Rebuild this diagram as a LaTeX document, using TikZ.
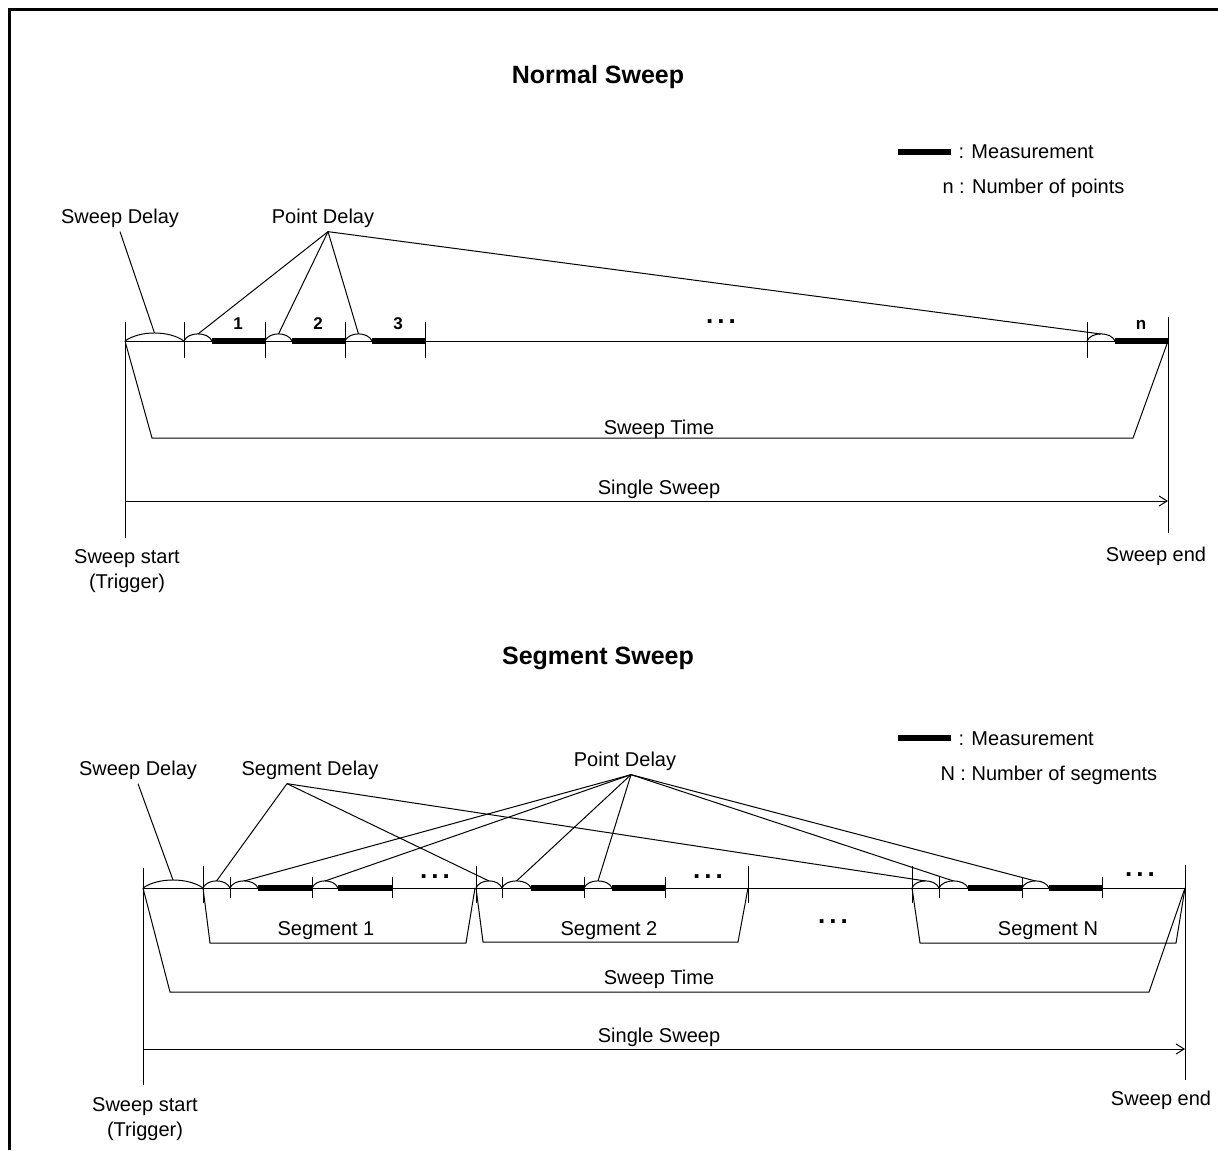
\documentclass[tikz,border=0pt]{standalone}
\usepackage{fontspec}
\setmainfont{Liberation Sans}
\usetikzlibrary{arrows.meta}
\tikzset{every picture/.style={line width=0.5pt}}
\tikzset{
  lbl/.style={anchor=base,inner sep=2pt,font=\fontsize{10}{12}\selectfont},
  ttl/.style={anchor=base,inner sep=2pt,font=\fontsize{12.5}{15}\selectfont\bfseries},
  num/.style={anchor=base,inner sep=1pt,font=\fontsize{8.5}{10}\selectfont\bfseries},
  ell/.style={anchor=base,inner sep=0pt,font=\fontsize{13}{15}\selectfont\bfseries},
  meas/.style={line width=2.8pt},
  sarr/.style={-{Straight Barb[length=4pt,width=5pt]}},
}
\newcommand{\tdots}{.\kern2pt.\kern2pt.}

\begin{document}
\begin{tikzpicture}[x=0.5pt,y=0.5pt,yscale=-1,xscale=1]
    \useasboundingbox (0,0) rectangle (1218,1150);
    \draw [line width=1.5pt] (9,1150) -- (9,10) -- (1218,10) ;
    % Normal Sweep
    \node (ttlA) [ttl] at (598,84) {Normal Sweep};
    \draw [meas] (898,152) -- (951,152) ;
    \node (msA) [lbl,anchor=base west,inner sep=0pt] at (958,159) {: Measurement};
    \node (npA) [lbl,anchor=base west,inner sep=0pt] at (942,193) {n : Number of points};
    \node (swdA) [lbl] at (120,223) {Sweep Delay};
    \node (ptdA) [lbl] at (323,223) {Point Delay};
    \draw    (125,341) -- (1168,341) ;
    \draw    (125,322) -- (125,538) ;
    \draw    (1168,317) -- (1168,533) ;
    \foreach \x in {184,265,345,425,1087}
      \draw    (\x,322) -- (\x,358) ;
    \foreach \a/\b in {212/265,292/345,372/425,1115/1168}
      \draw [meas] (\a,341) -- (\b,341) ;
    \draw    (125,341) .. controls +(15,-10.7) and +(-15,-10.7) .. (184,341) ;
    \coordinate (sdA) at (154.5,333) ;
    \foreach \a/\b [count=\i] in {184/212,265/292,345/372,1087/1115} {
      \draw    (\a,341) .. controls +(4,-9.5) and +(-4,-9.5) .. (\b,341) ;
      \coordinate (pA\i) at ({(\a+\b)/2},334) ;
    }
    \node (n1) [num] at (238,329) {1};
    \node (n2) [num] at (318,329) {2};
    \node (n3) [num] at (398,329) {3};
    \node (nn) [num] at (1141,329) {n};
    \node (elA) [ell] at (721,323) {\tdots};
    \draw    (swdA.south) -- (sdA) ;
    \foreach \i in {1,...,4}
      \draw    ([xshift=2.5pt]ptdA.south) -- (pA\i) ;
    \draw    (125,341) -- (152,438) -- (1133,438) -- (1168,341) ;
    \node (stA) [lbl] at (659,434) {Sweep Time};
    \draw [sarr] (125,501) -- (1168,501) ;
    \node (ssA) [lbl] at (659,494) {Single Sweep};
    \node (bgA) [lbl] at (127,563) {Sweep start};
    \node (trA) [lbl] at (127,588) {(Trigger)};
    \node (enA) [lbl] at (1156,561) {Sweep end};
    % Segment Sweep
    \node (ttlB) [ttl] at (598,664) {Segment Sweep};
    \draw [meas] (898,738) -- (951,738) ;
    \node (msB) [lbl,anchor=base west,inner sep=0pt] at (958,745) {: Measurement};
    \node (nsB) [lbl,anchor=base west,inner sep=0pt] at (940,780) {N : Number of segments};
    \node (swdB) [lbl] at (138,775) {Sweep Delay};
    \node (sgdB) [lbl] at (310,775) {Segment Delay};
    \node (ptdB) [lbl] at (625,766) {Point Delay};
    \draw    (143,888) -- (1185,888) ;
    \draw    (143,868) -- (143,1085) ;
    \draw    (1185,865) -- (1185,1080) ;
    \foreach \x in {203,476,748,912}
      \draw    (\x,866) -- (\x,903) ;
    \foreach \x in {230,312,392,502,584,665,939,1022,1102}
      \draw    (\x,877) -- (\x,898) ;
    \foreach \a/\b in {258/312,338/392,531/584,612/665,968/1022,1049/1102}
      \draw [meas] (\a,888) -- (\b,888) ;
    \draw    (143,888) .. controls +(15,-10.7) and +(-15,-10.7) .. (203,888) ;
    \coordinate (sdB) at (173,880) ;
    \foreach \a/\b [count=\i] in {203/230,476/502,912/939} {
      \draw    (\a,888) .. controls +(4,-9.5) and +(-4,-9.5) .. (\b,888) ;
      \coordinate (gB\i) at ({(\a+\b)/2},881) ;
    }
    \foreach \a/\b [count=\i] in {230/258,312/338,502/531,584/612,939/968,1022/1049} {
      \draw    (\a,888) .. controls +(4,-9.5) and +(-4,-9.5) .. (\b,888) ;
      \coordinate (pB\i) at ({(\a+\b)/2},881) ;
    }
    \node (elB1) [ell] at (435,878) {\tdots};
    \node (elB2) [ell] at (708,878) {\tdots};
    \node (elB3) [ell] at (1140,876) {\tdots};
    \node (elB4) [ell] at (833,923) {\tdots};
    \draw    (swdB.south) -- (sdB) ;
    \foreach \i in {1,2,3}
      \draw    ([xshift=-11.5pt]sgdB.south) -- (gB\i) ;
    \foreach \i in {1,...,6}
      \draw    ([xshift=3pt]ptdB.south) -- (pB\i) ;
    \draw    (203,888) -- (210,943) -- (466,943) -- (475,888) ;
    \draw    (476,888) -- (483,942) -- (738,942) -- (748,888) ;
    \draw    (912,888) -- (920,943) -- (1176,943) -- (1185,888) ;
    \node (sg1) [lbl] at (326,935) {Segment 1};
    \node (sg2) [lbl] at (609,935) {Segment 2};
    \node (sgN) [lbl] at (1048,935) {Segment N};
    \draw    (143,888) -- (170,992) -- (1149,992) -- (1185,888) ;
    \node (stB) [lbl] at (659,984) {Sweep Time};
    \draw [sarr] (143,1049) -- (1185,1049) ;
    \node (ssB) [lbl] at (659,1042) {Single Sweep};
    \node (bgB) [lbl] at (145,1111) {Sweep start};
    \node (trB) [lbl] at (145,1136) {(Trigger)};
    \node (enB) [lbl] at (1161,1105) {Sweep end};
\end{tikzpicture}
\end{document}
